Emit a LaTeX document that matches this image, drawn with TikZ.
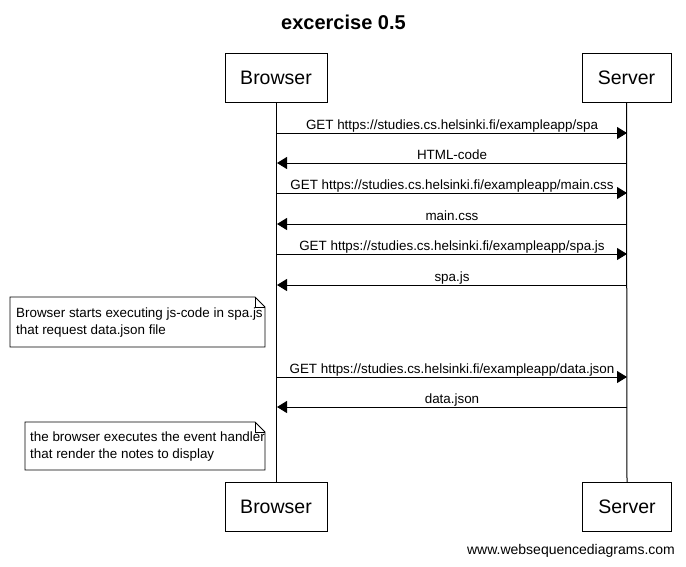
\documentclass[tikz,border=0pt]{standalone}
\usepackage{fontspec}
\setmainfont{Liberation Sans}
\usetikzlibrary{arrows.meta}
\begin{document}
\begin{tikzpicture}[x=1pt,y=-1pt,
  actor/.style={draw,line width=1pt,minimum height=49pt,inner sep=0pt,font=\fontsize{19.5}{22}\selectfont},
  life/.style={line width=1pt},
  msg/.style={line width=1pt,-{Triangle[length=10pt,width=12pt]}},
  lbl/.style={font=\fontsize{13.4}{15}\selectfont,inner sep=0pt,anchor=base},
  notetext/.style={font=\fontsize{13.4}{17}\selectfont,align=left,inner sep=0pt,anchor=north west},
  notebox/.style={line width=0.8pt,fill=white}]
\useasboundingbox (0,0) rectangle (686,566);
\node[font=\bfseries\fontsize{20}{24}\selectfont] (title) at (343.5,22) {excercise 0.5};
\node[actor,minimum width=102pt] (bt) at (276,77.5) {Browser};
\node[actor,minimum width=89pt] (st) at (626.5,77.5) {Server};
\node[actor,minimum width=102pt] (bb) at (276,507) {Browser};
\node[actor,minimum width=89pt] (sb) at (627,507) {Server};
\draw[life] (bt.south) -- (bb.north);
\draw[life] (st.south) -- (sb.north);
% message coordinates
\foreach \n/\y in {1/133,2/163,3/193,4/224,5/254,6/285,7/377,8/407}{
  \coordinate (b\n) at (277,\y);
  \coordinate (s\n) at (627,\y);
}
\draw[msg] (b1) -- (s1);
\draw[msg] (s2) -- (b2);
\draw[msg] (b3) -- (s3);
\draw[msg] (s4) -- (b4);
\draw[msg] (b5) -- (s5);
\draw[msg] (s6) -- (b6);
\draw[msg] (b7) -- (s7);
\draw[msg] (s8) -- (b8);
\node[lbl] (l1) at (452,129) {GET https://studies.cs.helsinki.fi/exampleapp/spa};
\node[lbl] (l2) at (452,159) {HTML-code};
\node[lbl] (l3) at (452,189) {GET https://studies.cs.helsinki.fi/exampleapp/main.css};
\node[lbl] (l4) at (452,220) {main.css};
\node[lbl] (l5) at (452,250) {GET https://studies.cs.helsinki.fi/exampleapp/spa.js};
\node[lbl] (l6) at (452,281) {spa.js};
\node[lbl] (l7) at (452,373) {GET https://studies.cs.helsinki.fi/exampleapp/data.json};
\node[lbl] (l8) at (452,403) {data.json};
% note 1
\draw[notebox] (10,297) -- (255,297) -- (265,307) -- (265,347) -- (10,347) -- cycle;
\draw[line width=0.8pt] (255,297) -- (255,307) -- (265,307);
\node[notetext] (n1) at (16,308) {Browser starts executing js-code in spa.js\\that request data.json file};
% note 2
\draw[notebox] (25,422) -- (255,422) -- (265,432) -- (265,470) -- (25,470) -- cycle;
\draw[line width=0.8pt] (255,422) -- (255,432) -- (265,432);
\node[notetext] (n2) at (30,432) {the browser executes the event handler\\that render the notes to display};
\node[font=\fontsize{14}{16}\selectfont,inner sep=0pt] (foot) at (571,551) {www.websequencediagrams.com};
\end{tikzpicture}
\end{document}
